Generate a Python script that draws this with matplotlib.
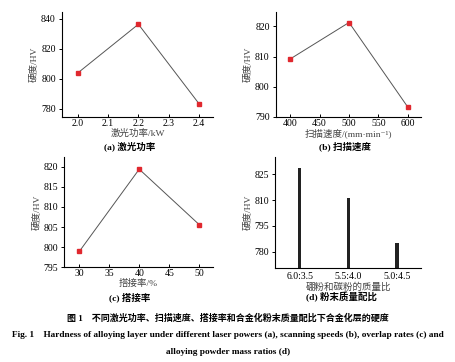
import matplotlib
matplotlib.use("Agg")
import matplotlib.pyplot as plt

plt.rcParams['font.family'] = ['Liberation Serif', 'Noto Sans CJK SC', 'DejaVu Serif']
plt.rcParams['font.size'] = 7
plt.rcParams['axes.linewidth'] = 0.8

# (a) laser power
power = [2.0, 2.2, 2.4]
hv_power = [804.0, 836.5, 783.5]
# (b) scanning speed
speed = [400, 500, 600]
hv_speed = [809.2, 821.3, 793.2]
# (c) overlap rate
overlap = [30, 40, 50]
hv_overlap = [798.9, 819.4, 805.6]
# (d) powder mass ratio
ratios = ["6.0:3.5", "5.5:4.0", "5.0:4.5"]
hv_ratio = [828.5, 811.4, 784.9]

fig = plt.figure(figsize=(4.56, 3.62), dpi=100)

def style(ax):
    ax.spines['top'].set_visible(False)
    ax.spines['right'].set_visible(False)
    ax.tick_params(axis='y', direction='out', length=2.5, width=0.7, pad=2, labelsize=7)
    ax.tick_params(axis='x', direction='in', length=2, width=0.7, pad=1.5, labelsize=7)
    ax.set_ylabel("硬度/HV", fontsize=6.8, labelpad=2, color='#444444')

def line(ax, x, y):
    ax.plot(x, y, color='#555555', lw=0.7, zorder=2)
    ax.plot(x, y, ls='none', marker='s', ms=2.2, color='#e0282e', zorder=3)

ax1 = fig.add_axes([0.136, 0.677, 0.331, 0.290])
line(ax1, power, hv_power)
ax1.set_xlim(1.948, 2.446)
ax1.set_ylim(774.7, 844.7)
ax1.set_xticks([2.0, 2.1, 2.2, 2.3, 2.4])
ax1.set_xticklabels(["2.0", "2.1", "2.2", "2.3", "2.4"])
ax1.set_yticks([780, 800, 820, 840])
style(ax1)
ax1.set_xlabel("激光功率/kW", fontsize=6.8, labelpad=0.5, color='#444444')

ax2 = fig.add_axes([0.605, 0.677, 0.318, 0.290])
line(ax2, speed, hv_speed)
ax2.set_xlim(375.8, 622)
ax2.set_ylim(790, 824.8)
ax2.set_xticks([400, 450, 500, 550, 600])
ax2.set_yticks([790, 800, 810, 820])
style(ax2)
ax2.set_xlabel("扫描速度/(mm·min⁻¹)", fontsize=6.8, labelpad=0.5, color='#444444')

ax3 = fig.add_axes([0.141, 0.262, 0.326, 0.305])
line(ax3, overlap, hv_overlap)
ax3.set_xlim(27.5, 52.3)
ax3.set_ylim(795, 822.5)
ax3.set_xticks([30, 35, 40, 45, 50])
ax3.set_yticks([795, 800, 805, 810, 815, 820])
style(ax3)
ax3.set_xlabel("搭接率/%", fontsize=6.8, labelpad=0.5, color='#444444')

ax4 = fig.add_axes([0.604, 0.259, 0.319, 0.308])
ax4.bar(range(len(ratios)), [v - 770 for v in hv_ratio], bottom=770, width=0.07, color='#222222')
ax4.set_xlim(-0.5, 2.49)
ax4.set_ylim(770.3, 835.3)
ax4.set_xticks(range(len(ratios)))
ax4.set_xticklabels(ratios)
ax4.set_yticks([780, 795, 810, 825])
style(ax4)
ax4.tick_params(axis='x', length=0, pad=3)
ax4.set_xlabel("硼粉和碳粉的质量比", fontsize=6.8, labelpad=0.5, color='#444444')

cap = dict(fontsize=6.8, fontweight='bold', ha='center', va='center')
fig.text(130 / 456, 1 - 146 / 362, "(a) 激光功率", **cap)
fig.text(345 / 456, 1 - 146 / 362, "(b) 扫描速度", **cap)
fig.text(130 / 456, 1 - 297 / 362, "(c) 搭接率", **cap)
fig.text(341 / 456, 1 - 297 / 362, "(d) 粉末质量配比", **cap)

fig.text(0.5, 1 - 318 / 362, "图 1    不同激光功率、扫描速度、搭接率和合金化粉末质量配比下合金化层的硬度",
         fontsize=6.5, fontweight='bold', ha='center', va='center')
fig.text(0.5, 1 - 335 / 362,
         "Fig. 1    Hardness of alloying layer under different laser powers (a), scanning speeds (b), overlap rates (c) and",
         fontsize=6.7, fontweight='bold', ha='center', va='center')
fig.text(0.5, 1 - 352 / 362, "alloying powder mass ratios (d)",
         fontsize=6.7, fontweight='bold', ha='center', va='center')

fig.savefig("out.png", dpi=100)
